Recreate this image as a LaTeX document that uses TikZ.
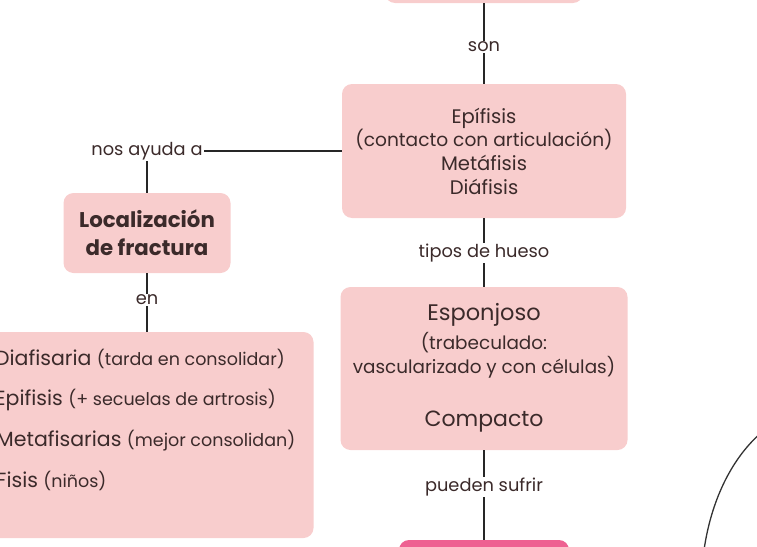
\documentclass[tikz,border=0pt]{standalone}
\usepackage{fontspec}
\setmainfont{Poppins}
\usepackage{tikz}
\usetikzlibrary{positioning}
\definecolor{rosa}{HTML}{F8CDCD}
\definecolor{fucsia}{HTML}{EE6192}
\definecolor{tinta}{HTML}{3B2A2A}
\tikzset{
	caja/.style={rounded corners=10pt, fill=rosa, draw=none, inner sep=0pt},
	enlace/.style={line width=1.9pt, draw=black!85},
	rotulo/.style={fill=white, inner sep=1pt, text=tinta, font=\medio},
	texto/.style={text=tinta, inner sep=0pt}
}
\newcommand{\grande}{\fontsize{20.5}{24}\selectfont}
\newcommand{\medio}{\fontsize{17.8}{24}\selectfont}
\newcommand{\chico}{\fontsize{17.5}{20}\selectfont}

\begin{document}
\begin{tikzpicture}[x=1pt, y=-1pt]
	\useasboundingbox (0,0) rectangle (757,546);
	\clip (0,0) rectangle (757,546);
%
	\node[caja, minimum width=198, minimum height=60] (arriba) at (484,-27) {};
	\node[caja, minimum width=284, minimum height=134, align=center, text=tinta, font=\fontsize{19.6}{23.7}\selectfont] (epi) at (484,151)
		{Epífisis\\{\fontsize{18.6}{23.7}\selectfont(contacto con articulación)}\\Metáfisis\\Diáfisis};
	\node[caja, minimum width=167, minimum height=80, align=center, text=tinta, font=\fontsize{21.3}{28}\selectfont\bfseries] (loc) at (147,233)
		{Localización\\de fractura};
	\node[caja, minimum width=333, minimum height=206] (lista) at (147,435) {};
	\node[caja, minimum width=287, minimum height=163] (esp) at (484,368.5) {};
	\node[caja, fill=fucsia, minimum width=170, minimum height=60] (abajo) at (484,570) {};
%
	\node[rotulo] (son) at (484,47) {son};
	\node[rotulo] (nos) at (147,151) {nos ayuda a};
	\node[rotulo] (en) at (147,300) {en};
	\node[rotulo] (tipos) at (484,253) {tipos de hueso};
	\node[rotulo] (pueden) at (484,487) {pueden sufrir};
%
	\node[texto, font=\fontsize{22.5}{24}\selectfont] (espT) at (484,315) {Esponjoso};
	\node[texto, font=\fontsize{18.4}{24}\selectfont, align=center] (trab) at (484,355) {(trabeculado:\\vascularizado y con células)};
	\node[texto, font=\fontsize{22}{24}\selectfont] (comp) at (484,422) {Compacto};
%
	\node[texto, font=\grande, anchor=west] (dia) at (-5,359) {Diafisaria {\chico(tarda en consolidar)}};
	\node[texto, font=\grande, anchor=west] (epif) at (-5,400) {Epifisis {\chico(+ secuelas de artrosis)}};
	\node[texto, font=\grande, anchor=west] (meta) at (-4,441) {Metafisarias {\chico(mejor consolidan)}};
	\node[texto, font=\grande, anchor=west] (fisis) at (-4,481) {Fisis {\chico(niños)}};
%
	\draw[enlace] (arriba) -- (son) -- (epi);
	\draw[enlace] (epi) -- (tipos) -- (esp);
	\draw[enlace] (esp) -- (pueden) -- (abajo);
	\draw[enlace] (epi.west |- nos) -- (nos) -- (loc);
	\draw[enlace] (loc) -- (en) -- (lista);
%
	\draw[line width=1.3pt, black!80] (762,432) .. controls (735,455) and (712,495) .. (704,550);
\end{tikzpicture}
\end{document}
